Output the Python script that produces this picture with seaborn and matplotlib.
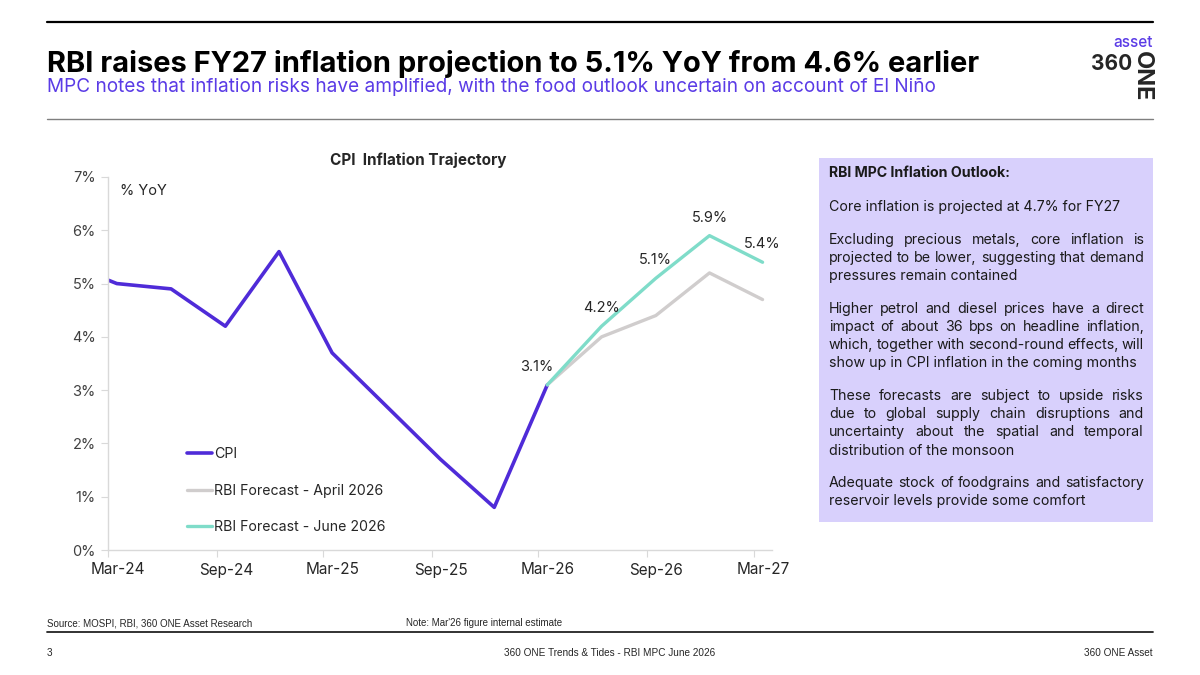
# %%
"""
CPI inflation trajectory with the RBI April / June 2026 forecasts.
"""

# %%
import matplotlib
matplotlib.use("Agg")
import pandas as pd
import matplotlib.pyplot as plt
from matplotlib.patches import Rectangle
from matplotlib.lines import Line2D
import seaborn as sns


# %%
# quarterly CPI, % YoY (Mar'26 internal estimate)
cpi_dates = ['2023-12-16', '2024-03-16', '2024-06-16', '2024-09-16', '2024-12-16',
             '2025-03-16', '2025-06-16', '2025-09-16', '2025-12-16', '2026-03-16']
cpi_values = [5.4, 5.0, 4.9, 4.2, 5.6, 3.7, 2.7, 1.7, 0.8, 3.1]

# RBI projections for FY27 quarters
fcst_dates = ['2026-03-16', '2026-06-16', '2026-09-16', '2026-12-16', '2027-03-16']
fcst_april = [3.1, 4.0, 4.4, 5.2, 4.7]
fcst_june = [3.1, 4.2, 5.1, 5.9, 5.4]

tick_months = ['2024-03-01', '2024-09-01', '2025-03-01', '2025-09-01',
               '2026-03-01', '2026-09-01', '2027-03-01']
tick_labels = ['Mar-24', 'Sep-24', 'Mar-25', 'Sep-25', 'Mar-26', 'Sep-26', 'Mar-27']
y_ticks = [0, 1, 2, 3, 4, 5, 6, 7]

outlook_title = 'RBI MPC Inflation Outlook:'
outlook_paras = [
    ['Core inflation is projected at 4.7% for FY27'],
    ['Excluding precious metals, core inflation is',
     'projected to be lower, suggesting that demand',
     'pressures remain contained'],
    ['Higher petrol and diesel prices have a direct',
     'impact of about 36 bps on headline inflation,',
     'which, together with second-round effects, will',
     'show up in CPI inflation in the coming months'],
    ['These forecasts are subject to upside risks',
     'due to global supply chain disruptions and',
     'uncertainty about the spatial and temporal',
     'distribution of the monsoon'],
    ['Adequate stock of foodgrains and satisfactory',
     'reservoir levels provide some comfort'],
]

PURPLE = '#4f2bd8'
GREY_F = '#d0cdcd'
TEAL = '#7fdcc9'
LAVENDER = '#d8d0fc'


# %%
sns.set_style("ticks")
plt.rcParams['font.family'] = ['Inter', 'DejaVu Sans']

W, H = 1200, 675
fig = plt.figure(figsize=(12, 6.75), dpi=100)
renderer = fig.canvas.get_renderer()


def px(x, y):
    return x / W, 1 - y / H


def fit(t, width):
    w = t.get_window_extent(renderer).width
    t.set_fontsize(t.get_fontsize() * width / w)
    return t


# %%
ax = fig.add_axes([108 / W, 1 - 550 / H, (772 - 108) / W, (550 - 177) / H])

cpi = pd.DataFrame({'date': pd.to_datetime(cpi_dates), 'value': cpi_values})
apr = pd.DataFrame({'date': pd.to_datetime(fcst_dates), 'value': fcst_april})
jun = pd.DataFrame({'date': pd.to_datetime(fcst_dates), 'value': fcst_june})

sns.lineplot(data=cpi, x='date', y='value', color=PURPLE, linewidth=2.6, label='CPI', ax=ax)
sns.lineplot(data=apr, x='date', y='value', color=GREY_F, linewidth=2.4,
             label='RBI Forecast - April 2026', ax=ax)
sns.lineplot(data=jun, x='date', y='value', color=TEAL, linewidth=2.4,
             label='RBI Forecast - June 2026', ax=ax)

ax.set_xlim(pd.Timestamp('2024-03-01'), pd.Timestamp('2027-04-01'))
ax.set_ylim(0, 7)
ax.set_xlabel('')
ax.set_ylabel('')

ax.set_yticks(y_ticks, labels=[f'{v}%' for v in y_ticks])
ax.set_xticks(pd.to_datetime(tick_months), labels=[''] * len(tick_months))
ax.set_xticks(pd.to_datetime(tick_months) + pd.Timedelta(days=16), labels=tick_labels, minor=True)

for s in ['top', 'right']:
    ax.spines[s].set_visible(False)
for s in ['left', 'bottom']:
    ax.spines[s].set_color('#d9d9d9')
    ax.spines[s].set_linewidth(1)
ax.tick_params(axis='both', which='major', direction='out', length=5, color='#d9d9d9',
               labelcolor='#404040')
ax.tick_params(axis='y', labelsize=10.5, pad=4)
ax.tick_params(axis='x', which='minor', length=0, labelsize=11, pad=9, labelcolor='#262626')

# data labels
ax.annotate(f'{cpi_values[-1]}%', (cpi.date.iloc[-1], cpi_values[-1]), xytext=(-11, 18),
            textcoords='offset pixels', ha='center', va='center', fontsize=10.5, color='#262626')
for d, v in zip(jun.date.iloc[1:], fcst_june[1:]):
    ax.annotate(f'{v}%', (d, v), xytext=(0, 18), textcoords='offset pixels',
                ha='center', va='center', fontsize=10.5, color='#262626')

ax.legend(loc='upper left', bbox_to_anchor=px(187, 447), bbox_transform=fig.transFigure,
          frameon=False, fontsize=10.2, handlelength=1.75, handletextpad=0.15,
          labelspacing=1.6, borderpad=0, borderaxespad=0, labelcolor='#262626')

fig.text(*px(120, 195), '% YoY', fontsize=10.5, color='#262626', va='baseline')
t = fig.text(*px(418, 165), 'CPI  Inflation Trajectory', fontsize=11, fontweight='bold',
             ha='center', va='baseline', color='#262626')
fit(t, 177)


# %%
# header
fig.add_artist(Line2D([47 / W, 1153 / W], [1 - 21.5 / H] * 2, color='black', lw=1.6))
fig.add_artist(Line2D([47 / W, 1153 / W], [1 - 119 / H] * 2, color='#7f7f7f', lw=1.0))
t = fig.text(*px(47, 72), 'RBI raises FY27 inflation projection to 5.1% YoY from 4.6% earlier',
             fontsize=20, fontweight='bold', va='baseline', color='black')
fit(t, 933)
t = fig.text(*px(47, 92), 'MPC notes that inflation risks have amplified, with the food outlook '
             'uncertain on account of El Niño', fontsize=13, va='baseline', color='#5a3be6')
fit(t, 888)

# logo
fig.text(*px(1153, 47), 'asset', fontsize=11, color='#5a3be6', ha='right', va='baseline',
         fontweight='medium')
fig.text(*px(1132, 70), '360', fontsize=15, fontweight='bold', ha='right', va='baseline')
fig.text(*px(1153, 51), 'ONE', fontsize=17, fontweight='bold', ha='right', va='top', rotation=-90)


# %%
# outlook box with justified text
fig.patches.append(Rectangle(px(819, 521.5), (1153 - 819) / W, (521.5 - 158) / H,
                             transform=fig.transFigure, facecolor=LAVENDER, edgecolor='none'))

x0, x1 = 829, 1144
probe = fig.text(0, 0, outlook_paras[0][0], fontsize=11)
fit(probe, 289)
body = probe.get_fontsize()
probe.remove()

fig.text(*px(x0, 177), outlook_title, fontsize=body, fontweight='bold', va='baseline',
         color='#1a1a1a')
y = 211.5
for para in outlook_paras:
    for i, line in enumerate(para):
        if i == len(para) - 1:
            fig.text(*px(x0, y), line, fontsize=body, va='baseline', color='#1a1a1a')
        else:
            words = line.split()
            texts = [fig.text(0, px(0, y)[1], w_, fontsize=body, va='baseline', color='#1a1a1a')
                     for w_ in words]
            widths = [tt.get_window_extent(renderer).width for tt in texts]
            gap = (x1 - x0 - sum(widths)) / (len(words) - 1)
            xx = x0
            for tt, ww in zip(texts, widths):
                tt.set_x(xx / W)
                xx += ww + gap
        y += 18.2
    y += 14.3


# %%
# footer
foot = ['Liberation Sans Narrow', 'Liberation Sans', 'DejaVu Sans']
fig.text(*px(47, 626), 'Source: MOSPI, RBI, 360 ONE Asset Research', fontsize=7,
         family=foot, va='baseline')
fig.text(*px(406, 626), "Note: Mar'26 figure internal estimate", fontsize=7,
         family=foot, va='baseline')
fig.add_artist(Line2D([47 / W, 1153 / W], [1 - 632 / H] * 2, color='#222222', lw=1.3))
fig.text(*px(47, 656), '3', fontsize=7.2, family=foot, va='baseline')
fig.text(*px(610, 656), '360 ONE Trends & Tides - RBI MPC June 2026', fontsize=7.2,
         family=foot, va='baseline', ha='center')
fig.text(*px(1153, 656), '360 ONE Asset', fontsize=7.2, family=foot, va='baseline', ha='right')

fig.savefig('out.png', dpi=100)
